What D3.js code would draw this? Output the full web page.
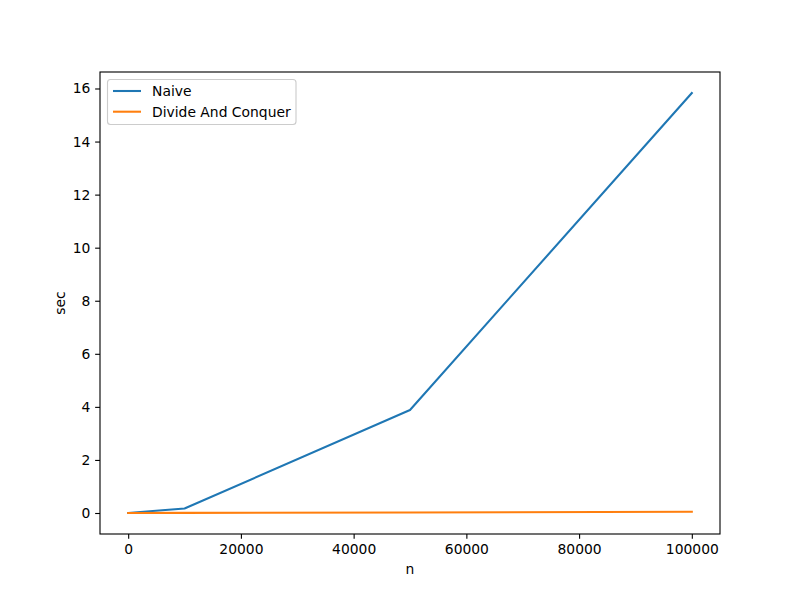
<!DOCTYPE html>
<html><head><meta charset="utf-8">
<script src="https://cdn.jsdelivr.net/npm/d3@7"></script>
<style>body{margin:0;background:#fff}text{font-family:"DejaVu Sans",sans-serif}</style>
</head><body><svg id="c" width="800" height="600"></svg>
<script>
const nValues = [0, 10000, 50000, 100000];
const naiveSec = [0.0, 0.17, 3.88, 15.83];
const dcSec = [0.0, 0.004, 0.02, 0.045];
const seriesNames = ["Naive", "Divide And Conquer"];
const seriesColors = ["#1f77b4", "#ff7f0e"];
const xTicks = [0, 20000, 40000, 60000, 80000, 100000];
const yTicks = [0, 2, 4, 6, 8, 10, 12, 14, 16];

const L = 100, R = 720, T = 72, B = 534;
const FS = 13.89;
const svg = d3.select("#c");
const allY = naiveSec.concat(dcSec);
const xmin = d3.min(nValues), xmax = d3.max(nValues);
const ymin = d3.min(allY), ymax = d3.max(allY);
const xp = (xmax - xmin) * 0.05, yp = (ymax - ymin) * 0.05;
const x = d3.scaleLinear().domain([xmin - xp, xmax + xp]).range([L, R]);
const y = d3.scaleLinear().domain([ymin - yp, ymax + yp]).range([B, T]);

const series = [naiveSec, dcSec];
const line = d3.line().x((d, i) => x(nValues[i])).y(d => y(d));
series.forEach((s, k) => {
  svg.append("path").datum(s).attr("d", line).attr("fill", "none")
    .attr("stroke", seriesColors[k]).attr("stroke-width", 2.08)
    .attr("stroke-linecap", "square").attr("stroke-linejoin", "round");
});

const xa = svg.append("g").attr("transform", `translate(0,${B})`)
  .call(d3.axisBottom(x).tickValues(xTicks).tickFormat(d3.format("d")).tickSize(4.86).tickPadding(4.86));
const ya = svg.append("g").attr("transform", `translate(${L},0)`)
  .call(d3.axisLeft(y).tickValues(yTicks).tickFormat(d3.format("d")).tickSize(4.86).tickPadding(4.86));
[xa, ya].forEach(a => {
  a.select(".domain").remove();
  a.selectAll("line").attr("stroke", "#000").attr("stroke-width", 1.11);
  a.selectAll("text").attr("font-size", FS).attr("fill", "#000").style("font-family", "DejaVu Sans");
});
svg.append("rect").attr("x", L).attr("y", T).attr("width", R - L).attr("height", B - T)
  .attr("fill", "none").attr("stroke", "#000").attr("stroke-width", 1.11);

svg.append("text").attr("x", (L + R) / 2).attr("y", 574).attr("text-anchor", "middle")
  .attr("font-size", FS).text("n");
svg.append("text").attr("transform", `translate(65,${(T + B) / 2}) rotate(-90)`)
  .attr("text-anchor", "middle").attr("font-size", FS).text("sec");

const lg = svg.append("g");
lg.append("rect").attr("x", 107.5).attr("y", 79.5).attr("width", 188.5).attr("height", 45)
  .attr("rx", 3).attr("fill", "#fff").attr("fill-opacity", 0.8).attr("stroke", "#ccc").attr("stroke-width", 1.11);
seriesNames.forEach((nm, k) => {
  const yy = 91 + k * 20.7;
  lg.append("line").attr("x1", 113).attr("x2", 141).attr("y1", yy).attr("y2", yy)
    .attr("stroke", seriesColors[k]).attr("stroke-width", 2.08);
  lg.append("text").attr("x", 152).attr("y", yy + 5).attr("font-size", FS).text(nm);
});
</script></body></html>
